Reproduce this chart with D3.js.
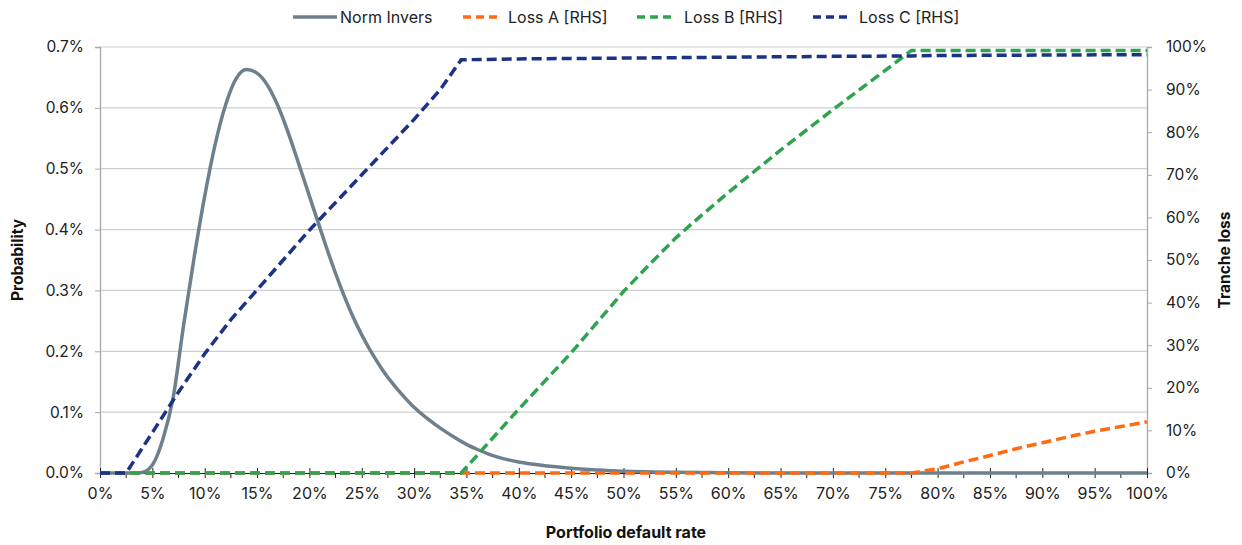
<!DOCTYPE html>
<html>
<head>
<meta charset="utf-8">
<script src="https://cdn.jsdelivr.net/npm/d3@7"></script>
<style>
  html, body { margin: 0; padding: 0; background: #ffffff; }
  svg { display: block; font-family: Inter, Roboto, "Noto Sans", sans-serif; }
</style>
</head>
<body>
<svg id="chart" width="1242" height="545"></svg>
<script>
// ---------- DATA (values in percent) ----------
const seriesNames = ["Norm Invers", "Loss A [RHS]", "Loss B [RHS]", "Loss C [RHS]"];

// Norm Invers (probability, LHS)
const normX = [0, 1, 2, 3, 4, 5, 6, 7, 8, 9, 10, 11, 12, 13, 14, 15, 16, 17, 18, 19, 20,
  21, 22, 23, 24, 25, 26, 27, 28, 29, 30, 31, 32, 33, 34, 35, 36, 37, 38, 40, 42.5, 45,
  47.5, 50, 55, 60, 65, 70, 80, 90, 100];
const normY = [0, 0, 0, 0, 0.001, 0.013, 0.055, 0.125, 0.245, 0.355, 0.455, 0.54, 0.605, 0.648, 0.663, 0.657, 0.637, 0.603, 0.558, 0.507, 0.455,
  0.403, 0.352, 0.305, 0.263, 0.227, 0.196, 0.169, 0.146, 0.126, 0.108, 0.093, 0.08, 0.068, 0.057, 0.047, 0.039, 0.032, 0.026, 0.018, 0.012, 0.008,
  0.005, 0.003, 0.0012, 0.0004, 0.0001, 0, 0, 0, 0];

// Loss A (tranche loss, RHS)
const lossAX = [0, 77.5, 80, 82.5, 85, 87.5, 90, 92.5, 95, 97.5, 100];
const lossAY = [0, 0, 1.0, 2.6, 4.1, 5.7, 7.1, 8.5, 9.8, 10.9, 12.0];

// Loss B (tranche loss, RHS)
const lossBX = [0, 34.5, 40, 45, 50, 52.5, 55, 57.5, 60, 65, 70, 75, 77.5, 80, 100];
const lossBY = [0, 0, 15.0, 28.2, 42.6, 49.0, 55.2, 60.6, 65.8, 75.8, 85.3, 94.5, 99.2, 99.2, 99.2];

// Loss C (tranche loss, RHS)
const lossCX = [0, 2.5, 5, 7.5, 10, 12.5, 15, 17.5, 20, 22.5, 25, 27.5, 30, 32.5, 34.5, 40, 50, 60, 70, 77.5, 80, 90, 100];
const lossCY = [0, 0, 9.5, 19.0, 28.0, 36.0, 43.0, 50.0, 57.0, 63.5, 70.0, 76.5, 83.0, 90.0, 97.0, 97.2, 97.4, 97.6, 97.8, 97.9, 98.0, 98.1, 98.2];

// Tick values
const xTicks = d3.range(0, 101, 5);
const xMinorTicks = d3.range(2.5, 100, 5);
const yLeftTicks = [0, 0.1, 0.2, 0.3, 0.4, 0.5, 0.6, 0.7];
const yRightTicks = [0, 10, 20, 30, 40, 50, 60, 70, 80, 90, 100];

// ---------- STYLE ----------
const colors = { norm: "#6e808d", a: "#ff6a13", b: "#2fa34f", c: "#1c3286" };
const svg = d3.select("#chart");
const L = 100, R = 1147, T = 47, B = 473;
const FONT = "Inter, Roboto, sans-serif";

const x = d3.scaleLinear().domain([0, 100]).range([L, R]);
const yL = d3.scaleLinear().domain([0, 0.7]).range([B, T]);
const yR = d3.scaleLinear().domain([0, 100]).range([B, T]);

// gridlines
svg.append("g").selectAll("line").data(yLeftTicks.filter(d => d > 0)).join("line")
  .attr("x1", L).attr("x2", R)
  .attr("y1", d => yL(d)).attr("y2", d => yL(d))
  .attr("stroke", "#cfcfcf").attr("stroke-width", 1.2);

// left axis
const leftAxis = d3.axisLeft(yL).tickValues(yLeftTicks).tickFormat(d => d.toFixed(1) + "%").tickSize(5).tickPadding(11);
const gL = svg.append("g").attr("transform", `translate(${L},0)`).call(leftAxis);
gL.select(".domain").attr("stroke", "#a9a9a9").attr("stroke-width", 1.3);
gL.selectAll(".tick line").attr("stroke", "#a9a9a9");
gL.selectAll(".tick text").attr("font-size", 15.5).attr("fill", "#222").attr("font-family", FONT);

// right axis
const rightAxis = d3.axisRight(yR).tickValues(yRightTicks).tickFormat(d => d + "%").tickSize(5).tickPadding(14);
const gR = svg.append("g").attr("transform", `translate(${R},0)`).call(rightAxis);
gR.select(".domain").attr("stroke", "#a9a9a9").attr("stroke-width", 1.3);
gR.selectAll(".tick line").attr("stroke", "#a9a9a9");
gR.selectAll(".tick text").attr("font-size", 15.5).attr("fill", "#222").attr("font-family", FONT);

// bottom axis
const bottomAxis = d3.axisBottom(x).tickValues(xTicks).tickFormat(d => d + "%").tickSize(5).tickPadding(10);
const gB = svg.append("g").attr("transform", `translate(0,${B})`).call(bottomAxis);
gB.select(".domain").attr("stroke", "#222").attr("stroke-width", 1);
gB.selectAll(".tick line").attr("stroke", "#222").attr("y1", -5);
gB.selectAll(".tick text").attr("font-size", 16).attr("fill", "#222").attr("font-family", FONT);
svg.append("g").selectAll("line").data(xMinorTicks).join("line")
  .attr("x1", d => x(d)).attr("x2", d => x(d))
  .attr("y1", B).attr("y2", B + 5)
  .attr("stroke", "#222").attr("stroke-width", 1);

// series (draw order: Norm, A, B, C)
const lineGen = (xs, ys, yScale, curve) => d3.line()
  .x((d, i) => x(xs[i])).y((d, i) => yScale(ys[i])).curve(curve)(ys);

const plot = svg.append("g");
plot.append("path").attr("d", lineGen(normX, normY, yL, d3.curveMonotoneX))
  .attr("fill", "none").attr("stroke", colors.norm).attr("stroke-width", 3.5);
plot.append("path").attr("d", lineGen(lossAX, lossAY, yR, d3.curveLinear))
  .attr("fill", "none").attr("stroke", colors.a).attr("stroke-width", 3.5).attr("stroke-dasharray", "10,5");
plot.append("path").attr("d", lineGen(lossBX, lossBY, yR, d3.curveLinear))
  .attr("fill", "none").attr("stroke", colors.b).attr("stroke-width", 3.5).attr("stroke-dasharray", "10,5");
plot.append("path").attr("d", lineGen(lossCX, lossCY, yR, d3.curveLinear))
  .attr("fill", "none").attr("stroke", colors.c).attr("stroke-width", 3.5).attr("stroke-dasharray", "10,5");

// axis titles
svg.append("text").attr("x", 626).attr("y", 538).attr("text-anchor", "middle")
  .attr("font-size", 16).attr("font-weight", "bold").attr("fill", "#111").text("Portfolio default rate");
svg.append("text").attr("transform", `translate(23,${(T + B) / 2}) rotate(-90)`).attr("text-anchor", "middle")
  .attr("font-size", 15.5).attr("font-weight", "bold").attr("fill", "#111").text("Probability");
svg.append("text").attr("transform", `translate(1230,${(T + B) / 2}) rotate(-90)`).attr("text-anchor", "middle")
  .attr("font-size", 15.5).attr("font-weight", "bold").attr("fill", "#111").text("Tranche loss");

// legend
const legendItems = [
  { name: seriesNames[0], color: colors.norm, dash: null, x0: 293, x1: 337, tx: 340 },
  { name: seriesNames[1], color: colors.a, dash: "8,5", x0: 463, x1: 501, tx: 508 },
  { name: seriesNames[2], color: colors.b, dash: "8,5", x0: 637, x1: 675, tx: 684 },
  { name: seriesNames[3], color: colors.c, dash: "8,5", x0: 813, x1: 851, tx: 859 }
];
const lg = svg.append("g").selectAll("g").data(legendItems).join("g");
lg.append("line").attr("x1", d => d.x0).attr("x2", d => d.x1).attr("y1", 17).attr("y2", 17)
  .attr("stroke", d => d.color).attr("stroke-width", 3.5)
  .attr("stroke-dasharray", d => d.dash);
lg.append("text").attr("x", d => d.tx).attr("y", 23).attr("font-size", 16).attr("fill", "#222").text(d => d.name);
</script>
</body>
</html>
